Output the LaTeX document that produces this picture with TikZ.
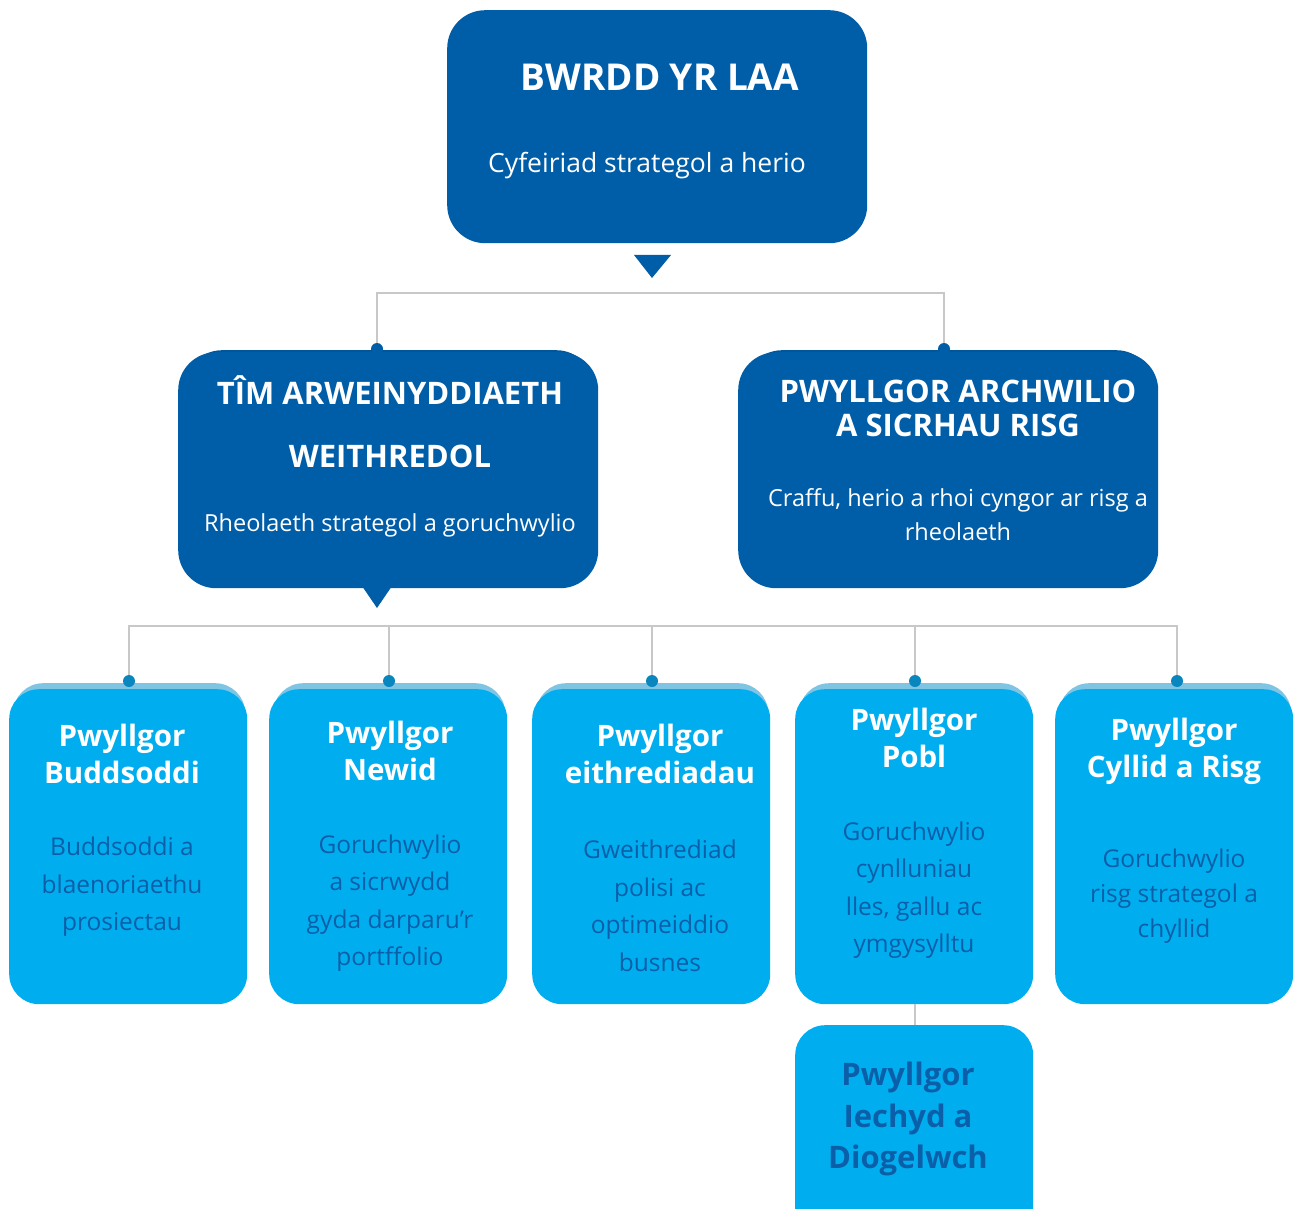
\documentclass[tikz,border=0pt]{standalone}
\usepackage{fontspec}
\setmainfont{Open Sans}
\usetikzlibrary{positioning, calc}

\definecolor{laadark}{HTML}{005DA8}
\definecolor{laalight}{HTML}{00AEEF}
\definecolor{laastrip}{HTML}{80C4E3}
\definecolor{laaline}{HTML}{C8C8C8}
\definecolor{laadot}{HTML}{0A86BF}
\definecolor{laatext}{HTML}{0B5EA8}

\tikzset{
    darkbox/.style={fill=laadark, rounded corners=38pt, minimum width=420pt, minimum height=236pt, inner sep=0pt, anchor=north west},
    lightbox/.style={fill=laalight, rounded corners=30pt, minimum width=238pt, minimum height=315pt, inner sep=0pt, anchor=north west},
    stripbox/.style={fill=laastrip, rounded corners=30pt, minimum width=232pt, minimum height=300pt, inner sep=0pt, anchor=north west},
    busline/.style={draw=laaline, line width=1.6pt},
    dot/.style={circle, fill=laadot, minimum size=12pt, inner sep=0pt},
    darkdot/.style={dot, fill=laadark},
    bigttl/.style={text=white, font=\bfseries\fontsize{37}{44}\selectfont, align=center},
    ttl/.style={text=white, font=\bfseries\fontsize{31}{34}\selectfont, align=center},
    sub/.style={text=white, font=\fontsize{23.5}{34}\selectfont, align=center},
    cttl/.style={text=white, font=\bfseries\fontsize{29.5}{37}\selectfont, align=center},
    csub/.style={text=laatext, font=\fontsize{24.5}{37.5}\selectfont, align=center},
}

\begin{document}
\begin{tikzpicture}[x=1pt, y=-1pt]
    \useasboundingbox (0,0) rectangle (1296,1209);

    % board
    \node[darkbox, minimum height=233pt] (bwrdd) at (447,10) {};
    \node[bigttl] (bwrdd-t) at (660,77) {BWRDD YR LAA};
    \node[sub, font=\fontsize{26.5}{34}\selectfont] (bwrdd-s) at (647,166) {Cyfeiriad strategol a herio};
    \fill[laadark] (634,255) -- (671,255) -- (652,278) -- cycle;

    % second level
    \node[darkbox, minimum width=410pt, minimum height=230pt, fill=laadark!92!black] (tim-b) at (184,350) {};
    \node[darkbox] (tim) at (178,352) {};
    \fill[laadark] (362,586) -- (392,586) -- (377,608) -- cycle;
    \node[darkbox, minimum width=410pt, minimum height=230pt, fill=laadark!92!black] (pac-b) at (744,350) {};
    \node[darkbox] (pac) at (738,352) {};

    \node[ttl] (tim-t1) at (390,390) {TÎM ARWEINYDDIAETH};
    \node[ttl] (tim-t2) at (390,456) {WEITHREDOL};
    \node[sub] (tim-s) at (390,525) {Rheolaeth strategol a goruchwylio};
    \node[ttl] (pac-t) at (958,408) {PWYLLGOR ARCHWILIO\\A SICRHAU RISG};
    \node[sub] (pac-s) at (958,515) {Craffu, herio a rhoi cyngor ar risg a\\rheolaeth};

    \node[darkdot] (tim-dot) at (377,349) {};
    \node[darkdot] (pac-dot) at (944,349) {};
    \coordinate (topbus) at (652,293);
    \draw[busline] (tim-dot) |- (topbus) -| (pac-dot);

    % committees
    \foreach \name/\x in {buddsoddi/9, newid/269, eithr/532, pobl/795, cyllid/1055} {
        \node[stripbox] (\name-s) at (\x+4,683) {};
        \node[lightbox] (\name) at (\x,689) {};
    }
    \node[lightbox, minimum height=240pt] (iechyd) at (795,1025) {};

    \foreach \name/\x in {buddsoddi/129, newid/389, eithr/652, pobl/915, cyllid/1177}
        \node[dot] (\name-dot) at (\x,681) {};
    \coordinate (midbus) at (652,626);
    \draw[busline] (buddsoddi-dot) |- (midbus) -| (cyllid-dot);
    \foreach \name in {newid, eithr, pobl}
        \draw[busline] (\name-dot) -- (\name-dot |- midbus);
    \draw[busline] (pobl.south -| pobl-dot) -- (iechyd.north -| pobl-dot);

    \node[cttl] (buddsoddi-t) at (122,754) {Pwyllgor\\Buddsoddi};
    \node[csub] (buddsoddi-d) at (122,887) {Buddsoddi a\\blaenoriaethu\\prosiectau};
    \node[cttl] (newid-t) at (390,751) {Pwyllgor\\Newid};
    \node[csub] (newid-d) at (390,903) {Goruchwylio\\a sicrwydd\\gyda darparu’r\\portffolio};
    \node[cttl] (eithr-t) at (660,754) {Pwyllgor\\eithrediadau};
    \node[csub] (eithr-d) at (660,906) {Gweithrediad\\polisi ac\\optimeiddio\\busnes};
    \node[cttl] (pobl-t) at (914,738) {Pwyllgor\\Pobl};
    \node[csub] (pobl-d) at (914,890) {Goruchwylio\\cynlluniau\\lles, gallu ac\\ymgysylltu};
    \node[cttl] (cyllid-t) at (1174,751) {Pwyllgor\\Cyllid a Risg};
    \node[csub, font=\fontsize{24.5}{35}\selectfont] (cyllid-d) at (1174,896) {Goruchwylio\\risg strategol a\\chyllid};
    \node[cttl, text=laatext, font=\bfseries\fontsize{31}{41.5}\selectfont] (iechyd-t) at (908,1119) {Pwyllgor\\Iechyd a\\Diogelwch};
\end{tikzpicture}
\end{document}
